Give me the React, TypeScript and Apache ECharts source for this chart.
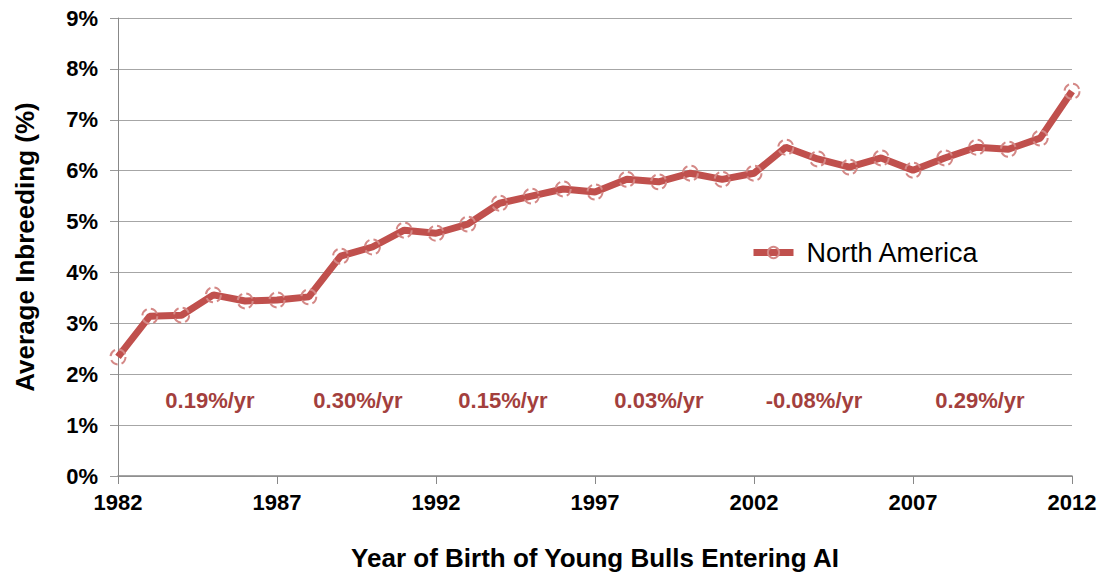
import React, { useEffect, useRef } from "react";
import * as echarts from "echarts";

const years = [
  "1982","1983","1984","1985","1986","1987","1988","1989","1990","1991",
  "1992","1993","1994","1995","1996","1997","1998","1999","2000","2001",
  "2002","2003","2004","2005","2006","2007","2008","2009","2010","2011","2012",
];
const northAmerica = [
  2.34, 3.14, 3.16, 3.56, 3.44, 3.46, 3.52, 4.32, 4.50, 4.83,
  4.77, 4.95, 5.36, 5.50, 5.64, 5.58, 5.83, 5.78, 5.95, 5.83,
  5.95, 6.46, 6.23, 6.07, 6.25, 6.01, 6.25, 6.46, 6.42, 6.64, 7.56,
];
const rateLabels = ["0.19%/yr", "0.30%/yr", "0.15%/yr", "0.03%/yr", "-0.08%/yr", "0.29%/yr"];
const rateX = [210, 358, 503, 659, 814, 980];

const FONT = "'Liberation Sans', Arial, sans-serif";

export default function App() {
  const ref = useRef<HTMLDivElement>(null);
  useEffect(() => {
    if (!ref.current) return;
    const chart = echarts.init(ref.current, undefined, { renderer: "svg" });
    chart.setOption({
      animation: false,
      backgroundColor: "#ffffff",
      textStyle: { fontFamily: FONT },
      grid: { left: 118, right: 29, top: 18, bottom: 103, containLabel: false },
      legend: {
        data: ["North America"],
        left: 750,
        top: 239,
        padding: 0,
        itemWidth: 40,
        itemHeight: 14,
        itemGap: 10,
        lineStyle: { width: 7, color: "#c0504d" },
        textStyle: { fontSize: 27, color: "#000", fontFamily: FONT, padding: [0, 0, 0, 8] },
      },
      xAxis: {
        type: "category",
        data: years,
        boundaryGap: false,
        name: "Year of Birth of Young Bulls Entering AI",
        nameLocation: "middle",
        nameGap: 69,
        nameTextStyle: { fontSize: 26, fontWeight: "bold", color: "#000", fontFamily: FONT },
        axisLine: { lineStyle: { color: "#888", width: 1.5 } },
        axisTick: { show: true, interval: 4, length: 8, lineStyle: { color: "#888" } },
        axisLabel: { interval: 4, fontSize: 22, fontWeight: "bold", color: "#000", margin: 15, fontFamily: FONT },
        splitLine: { show: false },
      },
      yAxis: {
        type: "value",
        min: 0,
        max: 9,
        interval: 1,
        name: "Average Inbreeding (%)",
        nameLocation: "middle",
        nameGap: 80,
        nameTextStyle: { fontSize: 26, fontWeight: "bold", color: "#000", fontFamily: FONT },
        axisLine: { show: true, lineStyle: { color: "#888", width: 1 } },
        axisTick: { show: true, length: 8, lineStyle: { color: "#999" } },
        axisLabel: { formatter: "{value}%", fontSize: 22, fontWeight: "bold", color: "#000", margin: 20, fontFamily: FONT },
        splitLine: { show: true, lineStyle: { color: "#a6a6a6", width: 1 } },
      },
      series: [
        {
          name: "North America",
          type: "line",
          data: northAmerica,
          lineStyle: { color: "#c0504d", width: 7 },
          symbol: "circle",
          symbolSize: 15,
          itemStyle: { color: "rgba(255,255,255,0)", borderColor: "#d48886", borderWidth: 2, borderType: "dashed" },
          color: "#c0504d",
        },
      ],
      graphic: rateLabels.map((t, i) => ({
        type: "text",
        x: rateX[i],
        y: 400,
        style: {
          text: t,
          fill: "#a33f3d",
          font: `bold 22px ${FONT}`,
          textAlign: "center",
          textVerticalAlign: "middle",
        },
      })),
    });
    return () => chart.dispose();
  }, []);
  return <div ref={ref} style={{ width: 1101, height: 579, position: "absolute", left: 0, top: 0 }} />;
}
